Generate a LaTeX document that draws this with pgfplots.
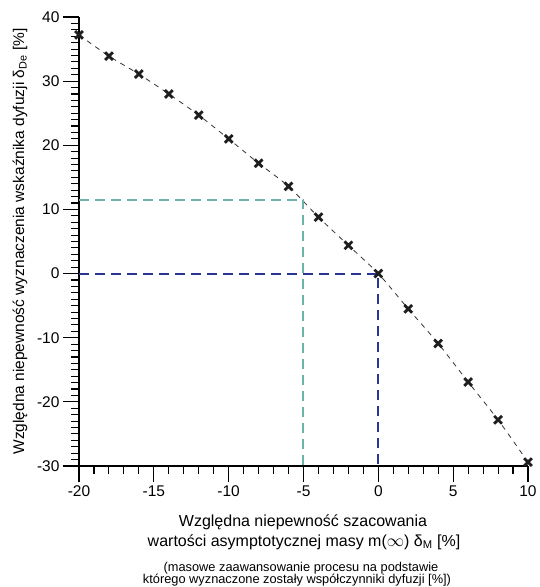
\documentclass[border=0pt]{standalone}
\usepackage{fontspec}
\setmainfont{Liberation Sans}
\usepackage{pgfplots}
\pgfplotsset{compat=1.18}
\definecolor{tealdash}{RGB}{110,178,172}
\definecolor{bluedash}{RGB}{40,55,150}
\definecolor{curvegray}{RGB}{50,50,50}
\definecolor{markcol}{RGB}{30,30,30}
\begin{document}
\begin{tikzpicture}
\useasboundingbox (-79pt,-121pt) rectangle (460pt,466pt);
\begin{axis}[
  at={(0,0)}, anchor=south west,
  scale only axis, width=449pt, height=449pt,
  xmin=-20, xmax=10, ymin=-30, ymax=40,
  axis lines=left, axis line style={-, line width=1.2pt},
  xtick={-20,-15,...,10}, ytick={-30,-20,...,40},
  minor x tick num=4, minor y tick num=9,
  tick align=outside,
  tickwidth=16pt, subtickwidth=8pt,
  major tick style={black, line width=1.2pt},
  minor tick style={black, line width=1.1pt},
  /pgf/number format/assume math mode=true,
  ticklabel style={font=\fontsize{15.5}{18}\selectfont},
  clip=false,
]
\addplot[curvegray, line width=0.8pt, dash pattern=on 5pt off 5pt, smooth, tension=0.4] coordinates {
(-20,37.2) (-18,33.9) (-16,31.1) (-14,28.0) (-12,24.7) (-10,21.0) (-8,17.2) (-6,13.6)
(-4,8.8) (-2,4.4) (0,0) (2,-5.5) (4,-10.9) (6,-16.9) (8,-22.8) (10,-29.4)};
\addplot[tealdash, line width=2pt, dash pattern=on 10pt off 6pt] coordinates {(-20,11.5) (-5,11.5) (-5,-30)};
\addplot[bluedash, line width=2pt, dash pattern=on 10pt off 6pt] coordinates {(-20,0) (0,0) (0,-30)};
\addplot[only marks, mark=x, mark size=5.5pt, mark options={markcol, line width=2.8pt, solid}] coordinates {
(-20,37.2) (-18,33.9) (-16,31.1) (-14,28.0) (-12,24.7) (-10,21.0) (-8,17.2) (-6,13.6)
(-4,8.8) (-2,4.4) (0,0) (2,-5.5) (4,-10.9) (6,-16.9) (8,-22.8) (10,-29.4)};
\end{axis}
\node[anchor=base, font=\fontsize{16}{19}\selectfont] at (224pt,-60pt) {Względna niepewność szacowania};
\node[anchor=base, font=\fontsize{16}{19}\selectfont] at (225pt,-80pt) {wartości asymptotycznej masy m($\infty$) δ\textsubscript{M} [\%]};
\node[anchor=base, font=\fontsize{12.8}{15}\selectfont] at (222pt,-105pt) {(masowe zaawansowanie procesu na podstawie};
\node[anchor=base, font=\fontsize{12.8}{15}\selectfont] at (218pt,-117pt) {którego wyznaczone zostały współczynniki dyfuzji [\%])};
\node[rotate=90, anchor=center, font=\fontsize{15.5}{18}\selectfont] at (-59pt,224.5pt) {Względna niepewność wyznaczenia wskaźnika dyfuzji δ\textsubscript{De} [\%]};
\end{tikzpicture}
\end{document}
